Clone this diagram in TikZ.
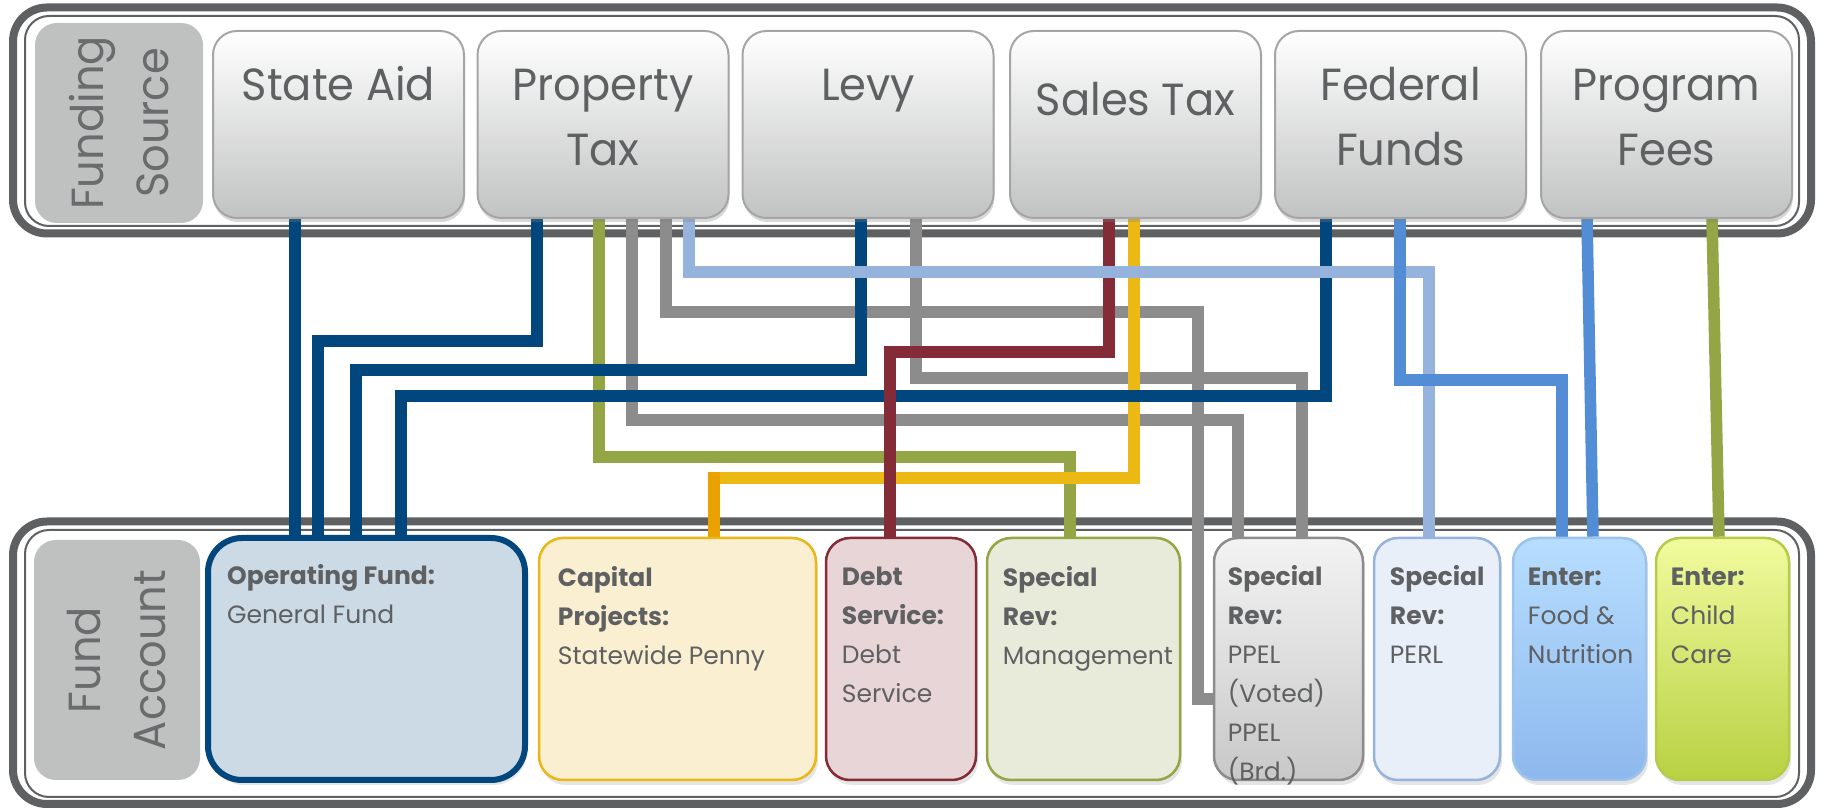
\documentclass[tikz,border=0pt]{standalone}
\usepackage{fontspec}
\setmainfont{Poppins}
\newfontfamily\srcfont[FakeStretch=0.96]{Poppins}
\usetikzlibrary{positioning,shadows}

\definecolor{rimgray}{HTML}{5F6062}
\definecolor{tagfill}{HTML}{BFC0C0}
\definecolor{tagtext}{HTML}{6A6B6D}
\definecolor{txt}{HTML}{5F6062}
\definecolor{srcline}{HTML}{A5A5A5}
\definecolor{srcbot}{HTML}{C1C2C2}
\definecolor{navy}{HTML}{02467E}
\definecolor{olive}{HTML}{94A545}
\definecolor{lgray}{HTML}{8C8C8C}
\definecolor{skyblue}{HTML}{95B3DC}
\definecolor{wine}{HTML}{832B37}
\definecolor{gold}{HTML}{EBB814}
\definecolor{amber}{HTML}{E9A200}
\definecolor{midblue}{HTML}{538DD5}
% fund fills
\definecolor{operfill}{HTML}{CBDAE5}
\definecolor{capline}{HTML}{EBB716}
\definecolor{capfill}{HTML}{FAEFD0}
\definecolor{debtfill}{HTML}{E8D5D7}
\definecolor{mgmtfill}{HTML}{E9EBDA}
\definecolor{ppeltop}{HTML}{F3F3F3}
\definecolor{ppelbot}{HTML}{C8C8C8}
\definecolor{perlfill}{HTML}{E9EFF9}
\definecolor{foodline}{HTML}{9DC3EB}
\definecolor{foodtop}{HTML}{B7DEFF}
\definecolor{foodbot}{HTML}{8DB8ED}
\definecolor{childline}{HTML}{B5CB49}
\definecolor{childtop}{HTML}{F1FB9E}
\definecolor{childbot}{HTML}{B8D142}

\pgfdeclarelayer{back}
\pgfsetlayers{back,main}

\tikzset{
  rim/.style={draw=rimgray},
  box/.style={rectangle, rounded corners=24pt, inner sep=0pt},
  headbox/.style={box, fill=tagfill, text=tagtext, rounded corners=22pt,
    align=center, font=\srcfont\fontsize{45}{65}\selectfont},
  source/.style={box, draw=srcline, line width=2pt, top color=white,
    bottom color=srcbot, minimum width=251pt, minimum height=187pt,
    drop shadow={shadow xshift=1pt, shadow yshift=-4pt, opacity=.3}},
  srctext/.style={inner sep=0pt, align=center, text=txt,
    font=\srcfont\fontsize{45}{65}\selectfont},
  fund/.style={box, line width=2.5pt, minimum height=242pt,
    drop shadow={shadow xshift=2pt, shadow yshift=-5pt, opacity=.2}},
  fundtext/.style={inner sep=0pt, align=left, text=txt,
    font=\fontsize{25}{39}\selectfont},
  conn/.style={line width=11.5pt},
}

\begin{document}
\begin{tikzpicture}[x=1pt, y=1pt]
\useasboundingbox (0,0) rectangle (1829,808);

% the two framed rows
\begin{pgfonlayer}{back}
\fill[white] (0,0) rectangle (1829,808);
\draw[rim, line width=8pt, rounded corners=34pt] (13,574.5) rectangle (1811,800.5);
\draw[rim, line width=2pt, rounded corners=24pt] (25,582) rectangle (1799,792);
\draw[rim, line width=8pt, rounded corners=34pt] (13,4) rectangle (1811,286.5);
\draw[rim, line width=2pt, rounded corners=24pt] (25,11) rectangle (1799,278);
\end{pgfonlayer}

% top row: where the money comes from
\path (119,685) node[headbox, rotate=90, minimum width=200pt, minimum height=168pt] (fsrc) {Funding\\Source};
\path (338.5,683.5) node[source] (state) {};
\path (603,683.5) node[source] (prop) {};
\path (868,683.5) node[source] (levy) {};
\path (1135.5,683.5) node[source] (sales) {};
\path (1400.5,683.5) node[source] (fed) {};
\path (1666.5,683.5) node[source] (prog) {};
\node[srctext, below=24.5pt of state.north] (state-t) {\strut State Aid};
\node[srctext, below=24.5pt of prop.north] (prop-t) {\strut Property\\Tax};
\node[srctext, below=24.5pt of levy.north] (levy-t) {\strut Levy};
\node[srctext, below=39.5pt of sales.north] (sales-t) {\strut Sales Tax};
\node[srctext, below=24.5pt of fed.north] (fed-t) {\strut Federal\\Funds};
\node[srctext, below=24.5pt of prog.north] (prog-t) {\strut Program\\Fees};

% bottom row: the fund accounts
\path (117,148) node[headbox, rotate=90, minimum width=240pt, minimum height=166pt] (facct) {Fund\\Account};
\path (366.5,149) node[fund, minimum width=317pt, draw=navy, line width=6pt, fill=operfill, rounded corners=34pt] (oper) {};
\path (677.5,149) node[fund, minimum width=277pt, draw=capline, fill=capfill] (cap) {};
\path (901,149) node[fund, minimum width=150pt, draw=wine, fill=debtfill] (debt) {};
\path (1083.5,149) node[fund, minimum width=193pt, draw=olive, fill=mgmtfill] (mgmt) {};
\path (1288.5,149) node[fund, minimum width=149pt, draw=lgray, top color=ppeltop, bottom color=ppelbot] (ppel) {};
\path (1437,149) node[fund, minimum width=126pt, draw=skyblue, fill=perlfill] (perl) {};
\path (1579.5,149) node[fund, minimum width=133pt, draw=foodline, top color=foodtop, bottom color=foodbot] (food) {};
\path (1722.5,149) node[fund, minimum width=133pt, draw=childline, top color=childtop, bottom color=childbot] (child) {};
\node[fundtext, below right=22pt and 22pt of oper.north west] (oper-t) {\strut\textbf{Operating Fund:}\\General Fund};
\node[fundtext, below right=22pt and 20pt of cap.north west] (cap-t) {\strut\textbf{Capital}\\\textbf{Projects:}\\Statewide Penny};
\node[fundtext, below right=21pt and 17pt of debt.north west] (debt-t) {\strut\textbf{Debt}\\\textbf{Service:}\\Debt\\Service};
\node[fundtext, below right=22pt and 17pt of mgmt.north west] (mgmt-t) {\strut\textbf{Special}\\\textbf{Rev:}\\Management};
\node[fundtext, below right=21pt and 15pt of ppel.north west] (ppel-t) {\strut\textbf{Special}\\\textbf{Rev:}\\PPEL\\(Voted)\\PPEL\\(Brd.)};
\node[fundtext, below right=21pt and 17pt of perl.north west] (perl-t) {\strut\textbf{Special}\\\textbf{Rev:}\\PERL};
\node[fundtext, below right=21pt and 16pt of food.north west] (food-t) {\strut\textbf{Enter:}\\Food \&\\Nutrition};
\node[fundtext, below right=21pt and 16pt of child.north west] (child-t) {\strut\textbf{Enter:}\\Child\\Care};

% flows from sources down to funds
\begin{pgfonlayer}{back}
\draw[conn, lgray] (prop.south -| 632,0) |- (1238,388) -- (ppel.north -| 1238,0);
\draw[conn, lgray] (prop.south -| 666,0) |- (1198,496) |- (ppel.west |- 0,109);
\draw[conn, lgray] (levy.south -| 916,0) |- (1302,430) -- (ppel.north -| 1302,0);
\draw[conn, olive] (prop.south -| 599,0) |- (1070,351) -- (mgmt.north -| 1070,0);
\draw[conn, gold] (sales.south -| 1134,0) |- (714,330) coordinate (drop);
\draw[conn, amber, line cap=rect] (drop) -- (cap.north -| drop);
\draw[conn, navy] (state.south -| 295,0) -- (oper.north -| 295,0);
\draw[conn, navy] (prop.south -| 537,0) |- (318,467) -- (oper.north -| 318,0);
\draw[conn, navy] (levy.south -| 861,0) |- (356,438) -- (oper.north -| 356,0);
\draw[conn, navy] (fed.south -| 1326,0) |- (401,412) -- (oper.north -| 401,0);
\draw[conn, wine] (sales.south -| 1109,0) |- (890,456) -- (debt.north -| 890,0);
\draw[conn, skyblue] (prop.south -| 689,0) |- (1429,536) -- (perl.north -| 1429,0);
\draw[conn, midblue] (fed.south -| 1400,0) |- (1562,428) -- (food.north -| 1562,0);
\draw[conn, midblue] (prog.south -| 1587,0) -- (food.north -| 1593,0);
\draw[conn, olive] (prog.south -| 1712,0) -- (child.north -| 1719,0);
\end{pgfonlayer}
\end{tikzpicture}
\end{document}
